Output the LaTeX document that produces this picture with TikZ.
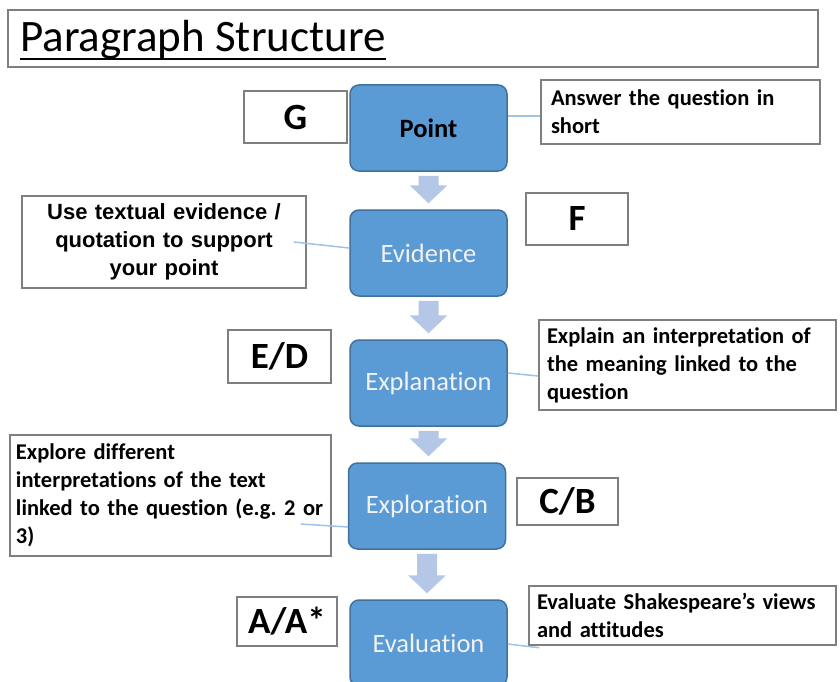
\documentclass[tikz,border=0pt]{standalone}
\usepackage{fontspec}
\setmainfont{Carlito}[Ligatures={NoCommon,NoContextual,NoRare},Contextuals=NoAlternate]
\newfontfamily\arialfont{Liberation Sans}
\usetikzlibrary{calc}
\definecolor{boxblue}{HTML}{5B9BD5}
\definecolor{boxedge}{HTML}{41719C}
\definecolor{arrowc}{HTML}{B4C7E7}
\definecolor{connc}{HTML}{9DC3E6}
\definecolor{framec}{HTML}{7F7F7F}
\definecolor{lighttext}{HTML}{F2F2F2}
\frenchspacing
\newcommand\blockarr[2]{%
  \path[fill=arrowc] let \p1=(#1.south), \p2=(#2.north) in
    (\x1-10pt,\y1-4pt) -- (\x1+10pt,\y1-4pt) -- (\x1+10pt,\y2+24pt) --
    (\x1+19pt,\y2+24pt) -- (\x1,\y2+6pt) -- (\x1-19pt,\y2+24pt) --
    (\x1-10pt,\y2+24pt) -- cycle;}
\begin{document}
\begin{tikzpicture}[x=1pt,y=-1pt,
  stage/.style={draw=boxedge, line width=1.5pt, fill=boxblue, rounded corners=9pt,
    minimum width=157pt, minimum height=86pt, inner sep=0pt,
    font=\fontsize{26.5}{30}\selectfont, text=lighttext},
  grade/.style={draw=framec, line width=1.5pt, fill=white, inner sep=0pt,
    font=\fontsize{37}{40}\selectfont\bfseries},
  note/.style={draw=framec, line width=1.5pt, fill=white, align=left, inner ysep=0pt,
    font=\fontsize{22.5}{28}\selectfont\bfseries},
  conn/.style={draw=connc, line width=1.5pt},
]
\clip (0,0) rectangle (840,682);
\fill[white] (0,0) rectangle (840,682);

% title
\node[draw=framec, line width=1.5pt, minimum width=810pt, minimum height=57pt, inner sep=0pt] (titlebox) at (413,38.5) {};
\node[anchor=base west, inner sep=0pt, font=\fontsize{45}{50}\selectfont] (title) at (20,52) {Paragraph Structure};
\draw[line width=2pt] ([yshift=-7pt]title.base west) -- ([yshift=-7pt]title.base east);

% stages
\node[stage, text=black, font=\fontsize{26.5}{30}\selectfont\bfseries] (point) at (428.5,128) {Point};
\node[stage] (evidence) at (428.5,253) {Evidence};
\node[stage] (explanation) at (428.5,383) {Explanation};
\node[stage] (exploration) at (427,506) {Exploration};
\node[stage] (evaluation) at (428.5,643) {Evaluation};

% grades
\node[grade, minimum width=103pt, minimum height=52pt] (g) at (295.5,117) {G};
\node[grade, minimum width=102pt, minimum height=52pt] (f) at (577,219) {F};
\node[grade, minimum width=103pt, minimum height=53pt] (ed) at (279.5,356.5) {E/D};
\node[grade, minimum width=101pt, minimum height=47pt] (cb) at (567.5,501.5) {C/B};
\node[grade, minimum width=100pt, minimum height=49pt] (aa) at (287,621.5) {A/A*};

% notes
\node[note, inner xsep=10pt, text width=259pt, minimum height=64pt] (answer) at (680.5,112)
  {\mbox{Answer the question in}\\short};
\node[note, align=center, inner xsep=6pt, text width=272pt, minimum height=92pt,
  font=\arialfont\fontsize{22}{28}\selectfont\bfseries] (use) at (164,242)
  {\mbox{Use textual evidence /}\\\mbox{quotation to support}\\your point};
\node[note, inner xsep=8pt, text width=281pt, minimum height=90pt] (explain) at (687.5,365)
  {\mbox{Explain an interpretation of}\\\mbox{the meaning linked to the}\\question};
\node[note, inner xsep=6pt, text width=309pt, minimum height=121pt] (explore) at (170.5,495.5)
  {Explore different\\\mbox{interpretations of the text}\\\mbox{linked to the question (e.g. 2 or}\\3)};
\node[note, inner xsep=8pt, text width=291pt, minimum height=59pt] (evaluate) at (682.5,615.5)
  {\mbox{Evaluate Shakespeare’s views}\\and attitudes};

% block arrows
\blockarr{point}{evidence}
\blockarr{evidence}{explanation}
\blockarr{explanation}{exploration}
\blockarr{exploration}{evaluation}

% connectors
\draw[conn] ([yshift=12pt]point.east) -- ([yshift=-4pt]answer.west);
\draw[conn] ([xshift=-13pt]use.east) -- ([yshift=5pt]evidence.west);
\draw[conn] ([yshift=10pt]explanation.east) -- ([yshift=-11pt]explain.west);
\draw[conn] ([xshift=-31pt,yshift=-28.5pt]explore.east) -- ([yshift=-21pt]exploration.west);
\draw[conn] ([yshift=-1pt]evaluation.east) -- ([xshift=11pt,yshift=-2pt]evaluate.south west);
\end{tikzpicture}
\end{document}
